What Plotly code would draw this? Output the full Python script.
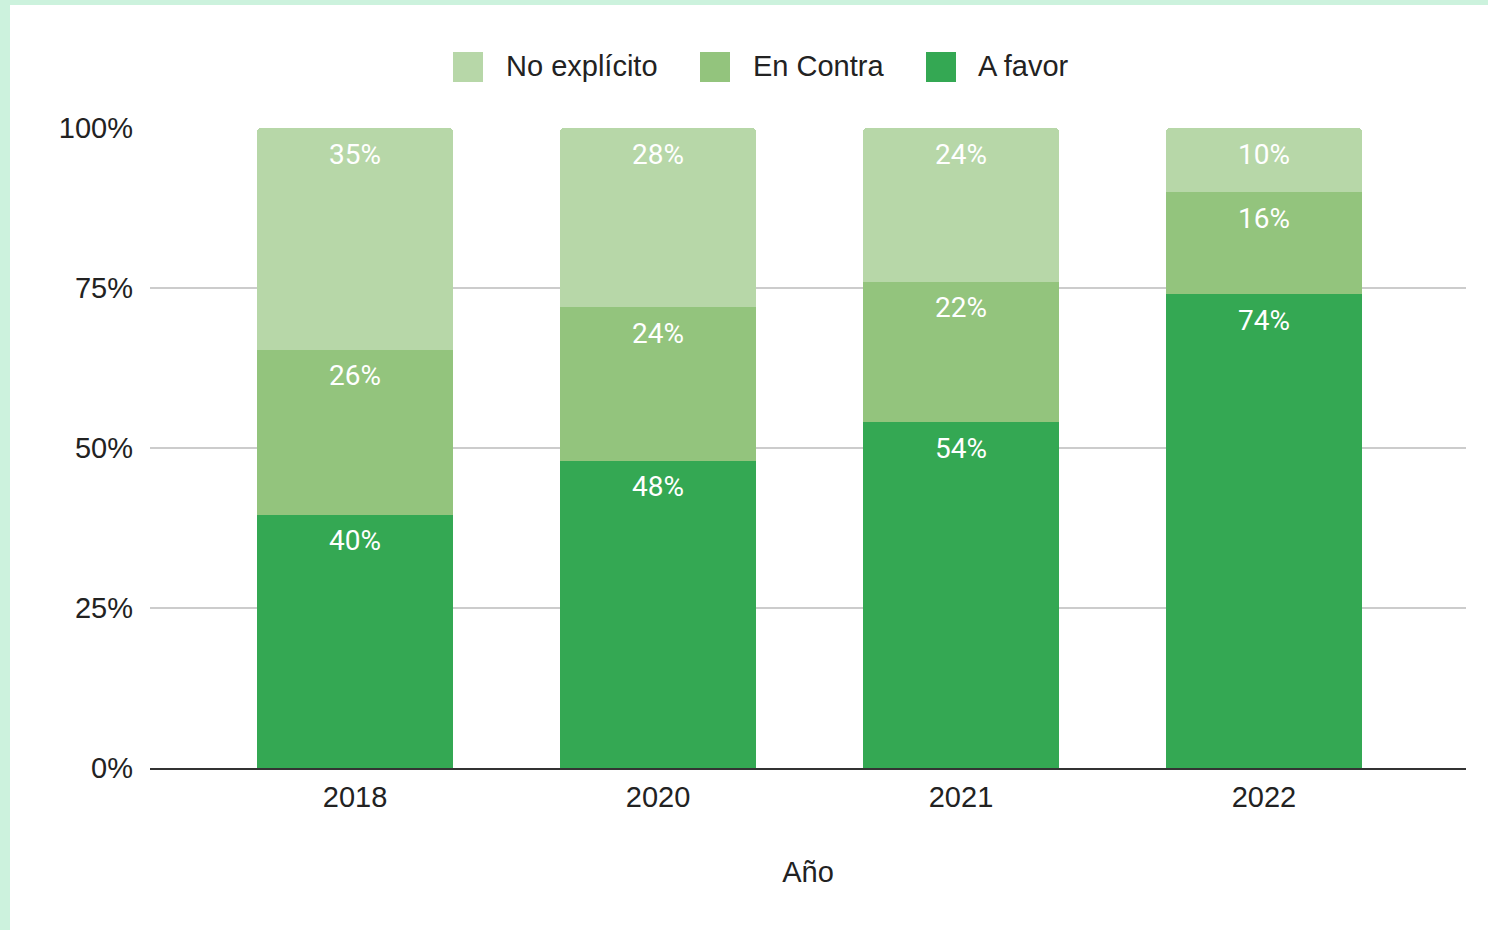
import plotly.graph_objects as go

years = ["2018", "2020", "2021", "2022"]
a_favor = [40, 48, 54, 74]
en_contra = [26, 24, 22, 16]
no_explicito = [35, 28, 24, 10]
y_ticks = [0, 25, 50, 75, 100]
y_tick_labels = ["0%", "25%", "50%", "75%", "100%"]

series_names = ["A favor", "En Contra", "No explícito"]
series_values = [a_favor, en_contra, no_explicito]
series_colors = ["#34A853", "#93C47D", "#B7D7A8"]

W, H = 1488, 930
ML, MR, MT, MB = 150, 22, 128, 162
PW, PH = W - ML - MR, H - MT - MB


def px_x(px):
    return (px - ML) / PW


def px_y(py):
    return (H - MB - py) / PH


fig = go.Figure()
for name, vals, col in zip(series_names, series_values, series_colors):
    fig.add_trace(go.Bar(
        x=years, y=vals, name=name, marker=dict(color=col, line=dict(width=0)),
        width=0.647, showlegend=False,
        hovertemplate="%{x}: %{y}%<extra>" + name + "</extra>",
    ))

# data labels near the top of each segment
totals = [sum(v[i] for v in series_values) for i in range(len(years))]
annotations = []
for i, yr in enumerate(years):
    cum = 0
    for vals in series_values:
        cum += vals[i]
        top = cum / totals[i] * 100
        annotations.append(dict(
            x=i, y=top, xref="x", yref="y", text=f"{vals[i]}%",
            showarrow=False, yanchor="middle", yshift=-26,
            font=dict(family="Roboto", size=28, color="white", weight=400),
        ))

# custom legend
legend_items = [
    ("No explícito", "#B7D7A8", 453, 504),
    ("En Contra", "#93C47D", 700, 751),
    ("A favor", "#34A853", 926, 976),
]
shapes = [
    # page border tint (top and left)
    dict(type="rect", xref="paper", yref="paper", x0=px_x(0), x1=px_x(W),
         y0=px_y(0), y1=px_y(5), fillcolor="#CCF2DD", line=dict(width=0), layer="below"),
    dict(type="rect", xref="paper", yref="paper", x0=px_x(0), x1=px_x(10),
         y0=px_y(0), y1=px_y(H), fillcolor="#CCF2DD", line=dict(width=0), layer="below"),
]
for label, col, sx, tx in legend_items:
    shapes.append(dict(type="rect", xref="paper", yref="paper",
                       x0=px_x(sx), x1=px_x(sx + 30), y0=px_y(82), y1=px_y(52),
                       fillcolor=col, line=dict(width=0)))
    annotations.append(dict(x=px_x(tx), y=px_y(66), xref="paper", yref="paper",
                            text=label, showarrow=False, xanchor="left", yanchor="middle",
                            font=dict(family="Liberation Sans, Arial", size=29, color="#222222")))

fig.update_layout(
    width=W, height=H,
    margin=dict(l=ML, r=MR, t=MT, b=MB, pad=0),
    paper_bgcolor="white", plot_bgcolor="white",
    barmode="stack", barnorm="percent", barcornerradius=4,
    font=dict(family="Liberation Sans, Arial", size=29, color="#222222"),
    annotations=annotations, shapes=shapes,
    xaxis=dict(
        type="category", range=[-0.677, 3.667], showgrid=False,
        showline=True, linecolor="#333333", linewidth=2,
        ticks="", ticklabelstandoff=2,
        tickfont=dict(size=29, color="#222222"),
        title=dict(text="Año", standoff=50, font=dict(size=29, color="#222222")),
    ),
    yaxis=dict(
        range=[0, 100], tickmode="array", tickvals=y_ticks, ticktext=y_tick_labels,
        showgrid=True, gridcolor="#CCCCCC", gridwidth=2,
        zeroline=False, showline=False, ticks="", ticklabelstandoff=16,
        tickfont=dict(size=29, color="#222222"),
    ),
    hovermode="closest",
)

fig.write_html(
    "out.html",
    config={"displayModeBar": False},
    post_script="document.body.style.margin='0';document.body.style.overflow='hidden';",
)
